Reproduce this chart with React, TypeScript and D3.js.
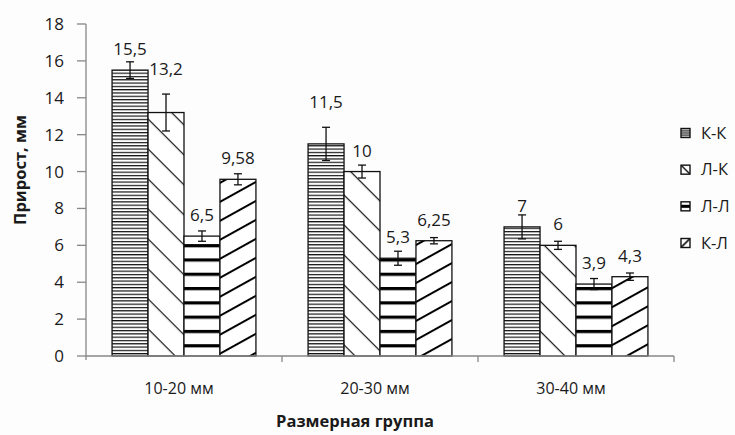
import React, { useEffect, useRef } from 'react';
import * as d3 from 'd3';

const categories = ['10-20 мм', '20-30 мм', '30-40 мм'];
const seriesNames = ['К-К', 'Л-К', 'Л-Л', 'К-Л'];
const kkValues = [15.5, 11.5, 7];
const lkValues = [13.2, 10, 6];
const llValues = [6.5, 5.3, 3.9];
const klValues = [9.58, 6.25, 4.3];
const kkErrors = [0.45, 0.9, 0.65];
const lkErrors = [1.0, 0.35, 0.22];
const llErrors = [0.28, 0.38, 0.3];
const klErrors = [0.3, 0.17, 0.2];
const yTicks = [0, 2, 4, 6, 8, 10, 12, 14, 16, 18];

const W = 735;
const H = 435;
const FONT = '"Open Sans", "Noto Sans", sans-serif';

const App = () => {
  const svgRef = useRef<SVGSVGElement>(null);

  useEffect(() => {
    if (!svgRef.current) return;
    const svg = d3.select(svgRef.current);
    svg.selectAll('*').remove();

    const margin = { left: 86, right: 61, top: 24, bottom: 79 };
    const x0 = margin.left;
    const x1 = W - margin.right;
    const yBottom = H - margin.bottom;

    const xScale = d3.scaleBand().domain(categories).range([x0, x1]).padding(0);
    const bw = xScale.bandwidth();
    const xInner = d3.scaleBand().domain(seriesNames).range([bw * 0.133, bw * 0.867]).padding(0);
    const yScale = d3.scaleLinear().domain([0, 18]).range([yBottom, margin.top]);

    const values = [kkValues, lkValues, llValues, klValues];
    const errors = [kkErrors, lkErrors, llErrors, klErrors];
    const patternIds = ['p-kk', 'p-lk', 'p-ll', 'p-kl'];
    const rows = seriesNames.flatMap((s, si) =>
      categories.map((c, ci) => ({ s, si, c, v: values[si][ci], e: errors[si][ci] }))
    );

    svg.append('rect').attr('width', W).attr('height', H).attr('fill', '#fdfdfd');

    // patterns
    const defs = svg.append('defs');
    const kk = defs.append('pattern').attr('id', 'p-kk').attr('patternUnits', 'userSpaceOnUse')
      .attr('width', 10).attr('height', 3.3);
    kk.append('rect').attr('width', 10).attr('height', 3.3).attr('fill', '#fff');
    kk.append('rect').attr('width', 10).attr('height', 1.2).attr('fill', '#111');

    const lk = defs.append('pattern').attr('id', 'p-lk').attr('patternUnits', 'userSpaceOnUse')
      .attr('width', 10).attr('height', 21.2).attr('patternTransform', 'rotate(45)');
    lk.append('rect').attr('width', 10).attr('height', 21.2).attr('fill', '#fff');
    lk.append('rect').attr('width', 10).attr('height', 1.2).attr('fill', '#111');

    const ll = defs.append('pattern').attr('id', 'p-ll').attr('patternUnits', 'userSpaceOnUse')
      .attr('width', 10).attr('height', 14.3).attr('y', 1);
    ll.append('rect').attr('width', 10).attr('height', 14.3).attr('fill', '#fff');
    ll.append('rect').attr('width', 10).attr('height', 3.2).attr('fill', '#000');

    const kl = defs.append('pattern').attr('id', 'p-kl').attr('patternUnits', 'userSpaceOnUse')
      .attr('width', 10).attr('height', 16.6).attr('patternTransform', 'rotate(-29)');
    kl.append('rect').attr('width', 10).attr('height', 16.6).attr('fill', '#fff');
    kl.append('rect').attr('width', 10).attr('height', 2).attr('fill', '#000');

    // legend patterns (bounding box units)
    const legendDefs = [
      (p: any) => [0.25, 0.5, 0.75].forEach(t => p.append('rect').attr('x', 0).attr('y', t - 0.07).attr('width', 1).attr('height', 0.14).attr('fill', '#111')),
      (p: any) => p.append('line').attr('x1', 0).attr('y1', 0).attr('x2', 1).attr('y2', 1).attr('stroke', '#111').attr('stroke-width', 0.16),
      (p: any) => p.append('rect').attr('x', 0).attr('y', 0.33).attr('width', 1).attr('height', 0.34).attr('fill', '#000'),
      (p: any) => p.append('line').attr('x1', 0).attr('y1', 1).attr('x2', 1).attr('y2', 0).attr('stroke', '#111').attr('stroke-width', 0.18),
    ];
    legendDefs.forEach((f, i) => {
      const p = defs.append('pattern').attr('id', `l-${i}`).attr('patternUnits', 'objectBoundingBox')
        .attr('patternContentUnits', 'objectBoundingBox').attr('width', 1).attr('height', 1);
      p.append('rect').attr('width', 1).attr('height', 1).attr('fill', '#fff');
      f(p);
    });

    const g = svg.append('g');

    // bars
    g.selectAll('.bar').data(rows).join('rect')
      .attr('class', 'bar')
      .attr('x', d => xScale(d.c)! + xInner(d.s)!)
      .attr('y', d => yScale(d.v))
      .attr('width', xInner.bandwidth())
      .attr('height', d => yBottom - yScale(d.v))
      .attr('fill', d => `url(#${patternIds[d.si]})`)
      .attr('stroke', '#111')
      .attr('stroke-width', 1.3);

    // error bars
    const eb = g.selectAll('.err').data(rows).join('g').attr('class', 'err')
      .attr('transform', d => `translate(${xScale(d.c)! + xInner(d.s)! + xInner.bandwidth() / 2},0)`);
    eb.append('line').attr('x1', 0).attr('x2', 0)
      .attr('y1', d => yScale(d.v + d.e)).attr('y2', d => yScale(d.v - d.e))
      .attr('stroke', '#111').attr('stroke-width', 1.3);
    eb.append('line').attr('x1', -4).attr('x2', 4)
      .attr('y1', d => yScale(d.v + d.e)).attr('y2', d => yScale(d.v + d.e))
      .attr('stroke', '#111').attr('stroke-width', 1.3);
    eb.append('line').attr('x1', -4).attr('x2', 4)
      .attr('y1', d => yScale(d.v - d.e)).attr('y2', d => yScale(d.v - d.e))
      .attr('stroke', '#111').attr('stroke-width', 1.3);

    // value labels
    g.selectAll('.val').data(rows).join('text')
      .attr('class', 'val')
      .attr('x', d => xScale(d.c)! + xInner(d.s)! + xInner.bandwidth() / 2)
      .attr('y', d => {
        const top = yScale(d.v);
        const errPx = yScale(0) - yScale(d.e);
        return errPx > 15 ? yScale(d.v + d.e) - 25 : top - 21;
      })
      .attr('dy', '0.35em')
      .attr('text-anchor', 'middle')
      .attr('font-family', FONT).attr('font-size', 17).attr('fill', '#1a1a1a')
      .text(d => String(d.v).replace('.', ','));

    // axes
    const axisColor = '#878787';
    g.append('line').attr('x1', x0).attr('x2', x0).attr('y1', yScale(18)).attr('y2', yBottom + 4)
      .attr('stroke', axisColor).attr('stroke-width', 1.3);
    g.append('line').attr('x1', x0).attr('x2', x1).attr('y1', yBottom).attr('y2', yBottom)
      .attr('stroke', axisColor).attr('stroke-width', 1.3);
    g.selectAll('.ytick').data(yTicks).join('line')
      .attr('x1', x0 - 9).attr('x2', x0).attr('y1', d => yScale(d)).attr('y2', d => yScale(d))
      .attr('stroke', axisColor).attr('stroke-width', 1.3);
    g.selectAll('.ylab').data(yTicks).join('text')
      .attr('x', x0 - 22).attr('y', d => yScale(d)).attr('dy', '0.35em')
      .attr('text-anchor', 'end').attr('font-family', FONT).attr('font-size', 17).attr('fill', '#1a1a1a')
      .text(d => d);
    g.selectAll('.xtick').data(categories).join('line')
      .attr('x1', d => xScale(d)! + bw).attr('x2', d => xScale(d)! + bw)
      .attr('y1', yBottom).attr('y2', yBottom + 6)
      .attr('stroke', axisColor).attr('stroke-width', 1.3);
    g.selectAll('.xlab').data(categories).join('text')
      .attr('x', d => xScale(d)! + bw / 2 - 5).attr('y', yBottom + 38)
      .attr('text-anchor', 'middle').attr('font-family', FONT).attr('font-size', 16).attr('fill', '#1a1a1a')
      .text(d => d);

    // titles
    svg.append('text').attr('x', 355).attr('y', 427).attr('text-anchor', 'middle')
      .attr('font-family', FONT).attr('font-weight', 'bold').attr('font-size', 16.5).attr('fill', '#1a1a1a')
      .text('Размерная группа');
    svg.append('text').attr('transform', 'translate(26,170) rotate(-90)').attr('text-anchor', 'middle')
      .attr('font-family', FONT).attr('font-weight', 'bold').attr('font-size', 16.5).attr('fill', '#1a1a1a')
      .text('Прирост, мм');

    // legend
    const lg = svg.append('g').attr('transform', 'translate(681,0)');
    const legendY = d3.scalePoint().domain(seriesNames).range([133, 243]);
    const li = lg.selectAll('.leg').data(seriesNames).join('g')
      .attr('transform', d => `translate(0,${legendY(d)})`);
    li.append('rect').attr('x', 0).attr('y', -4.5).attr('width', 9).attr('height', 9)
      .attr('fill', (d, i) => `url(#l-${i})`).attr('stroke', '#111').attr('stroke-width', 1.4);
    li.append('text').attr('x', 20).attr('y', 0).attr('dy', '0.35em')
      .attr('font-family', FONT).attr('font-size', 16.5).attr('fill', '#1a1a1a')
      .text(d => d);
  }, []);

  return (
    <svg ref={svgRef} width={W} height={H} style={{ position: 'absolute', left: 0, top: 0, display: 'block' }} />
  );
};

export default App;
